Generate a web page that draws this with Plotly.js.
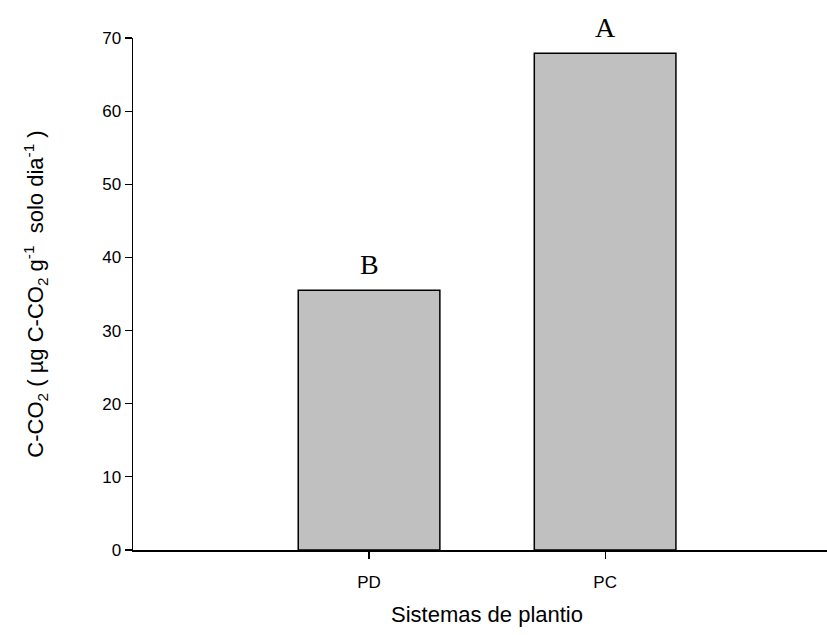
<!DOCTYPE html>
<html>
<head>
<meta charset="utf-8">
<script src="https://cdn.plot.ly/plotly-3.0.1.min.js"></script>
<style>html,body{margin:0;padding:0;background:#fff;}</style>
</head>
<body>
<div id="chart" style="width:827px;height:635px;"></div>
<script>
var categories = ["PD", "PC"];
var values = [35.5, 67.9];
var letters = ["B", "A"];
var yTickVals = [0, 10, 20, 30, 40, 50, 60, 70];

var trace = {
  type: "bar",
  x: categories,
  y: values,
  width: 0.6,
  marker: {color: "#c0c0c0", line: {color: "#000", width: 1.5}},
  hoverinfo: "none"
};

var annotations = categories.map(function (c, i) {
  return {
    x: c, y: values[i], xref: "x", yref: "y",
    text: letters[i], showarrow: false,
    yanchor: "bottom", yshift: 8,
    font: {family: "Liberation Serif, Times New Roman, serif", size: 28, color: "#000"}
  };
});
annotations.push({
  x: 0.5, xref: "x", y: -0.125, yref: "paper",
  text: "Sistemas de plantio", showarrow: false,
  xanchor: "center", yanchor: "middle",
  font: {family: "Liberation Sans, Arial, sans-serif", size: 22, color: "#000"}
});

var layout = {
  width: 827, height: 635,
  margin: {l: 133, r: 0, t: 38, b: 85},
  paper_bgcolor: "#fff", plot_bgcolor: "#fff",
  showlegend: false,
  font: {family: "Liberation Sans, Arial, sans-serif", color: "#000"},
  xaxis: {
    type: "category",
    range: [-1, 1.94],
    showline: true, linecolor: "#000", linewidth: 1.5,
    ticks: "outside", ticklen: 7, tickwidth: 1.2, tickcolor: "#000",
    tickfont: {size: 17},
    ticklabelstandoff: 9,
    showgrid: false, zeroline: false, fixedrange: true
  },
  yaxis: {
    range: [0, 70],
    tickvals: yTickVals,
    showline: true, linecolor: "#000", linewidth: 1.5,
    ticks: "outside", ticklen: 7, tickwidth: 1.2, tickcolor: "#000",
    tickfont: {size: 17},
    showgrid: false, zeroline: false, fixedrange: true,
    title: {
      text: "C-CO<sub>2</sub> ( µg C-CO<sub>2</sub> g<sup>-1</sup>  solo dia<sup>-1</sup> )",
      font: {size: 22},
      standoff: 52
    }
  },
  annotations: annotations
};

Plotly.newPlot("chart", [trace], layout, {displayModeBar: false, staticPlot: true});
</script>
</body>
</html>
